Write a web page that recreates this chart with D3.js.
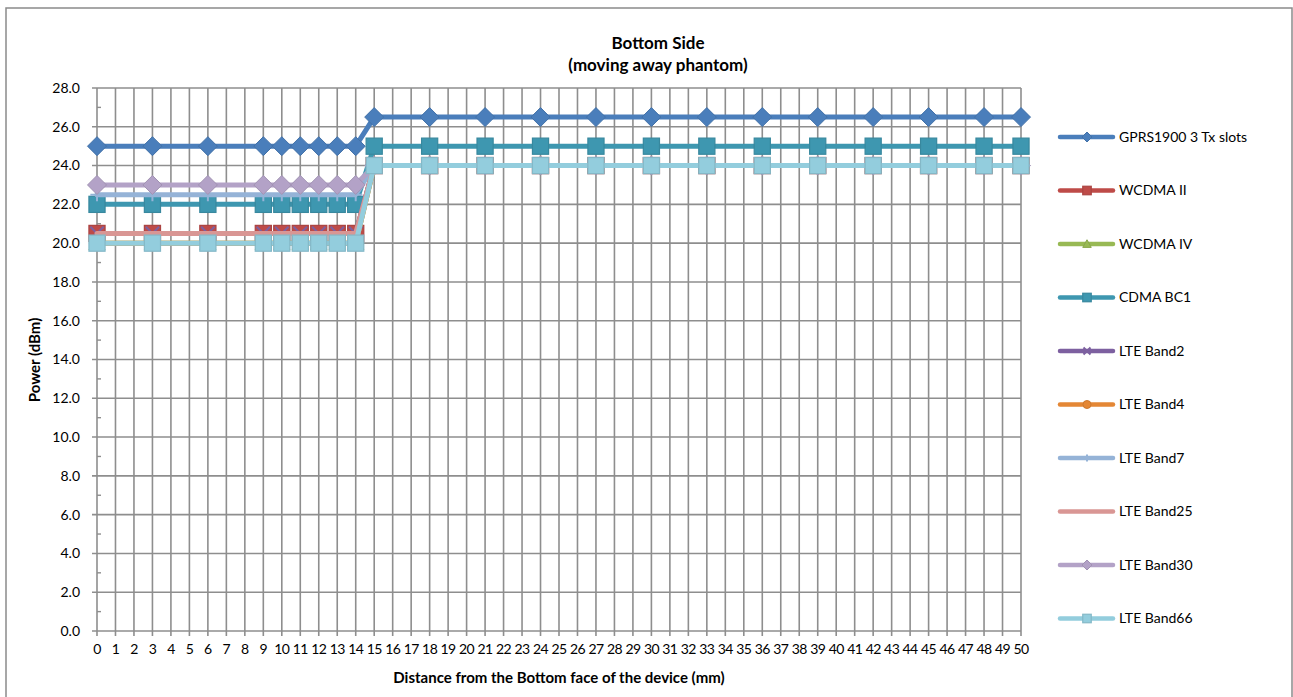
<!DOCTYPE html>
<html><head><meta charset="utf-8">
<script src="https://cdn.jsdelivr.net/npm/d3@7"></script>
<style>body{margin:0;background:#fff}svg{display:block;font-family:Lato,"Noto Sans",sans-serif}</style>
</head><body><svg id="c" width="1293" height="697"></svg>
<script>
const distances = [0,3,6,9,10,11,12,13,14,15,18,21,24,27,30,33,36,39,42,45,48,50];
const seriesNames = ["GPRS1900 3 Tx slots","WCDMA II","WCDMA IV","CDMA BC1","LTE Band2","LTE Band4","LTE Band7","LTE Band25","LTE Band30","LTE Band66"];
const gprs1900 = [25,25,25,25,25,25,25,25,25,26.5,26.5,26.5,26.5,26.5,26.5,26.5,26.5,26.5,26.5,26.5,26.5,26.5];
const wcdmaII  = [20.5,20.5,20.5,20.5,20.5,20.5,20.5,20.5,20.5,24,24,24,24,24,24,24,24,24,24,24,24,24];
const wcdmaIV  = [20,20,20,20,20,20,20,20,20,24,24,24,24,24,24,24,24,24,24,24,24,24];
const cdmaBC1  = [22,22,22,22,22,22,22,22,22,25,25,25,25,25,25,25,25,25,25,25,25,25];
const lteBand2 = [20.5,20.5,20.5,20.5,20.5,20.5,20.5,20.5,20.5,24,24,24,24,24,24,24,24,24,24,24,24,24];
const lteBand4 = [20,20,20,20,20,20,20,20,20,24,24,24,24,24,24,24,24,24,24,24,24,24];
const lteBand7 = [22.5,22.5,22.5,22.5,22.5,22.5,22.5,22.5,22.5,24,24,24,24,24,24,24,24,24,24,24,24,24];
const lteBand25 = [20.5,20.5,20.5,20.5,20.5,20.5,20.5,20.5,20.5,24,24,24,24,24,24,24,24,24,24,24,24,24];
const lteBand30 = [23,23,23,23,23,23,23,23,23,24,24,24,24,24,24,24,24,24,24,24,24,24];
const lteBand66 = [20,20,20,20,20,20,20,20,20,24,24,24,24,24,24,24,24,24,24,24,24,24];
const xTickLabels = d3.range(0,51);
const yTickLabels = d3.range(0,29,2);

const seriesValues = [gprs1900,wcdmaII,wcdmaIV,cdmaBC1,lteBand2,lteBand4,lteBand7,lteBand25,lteBand30,lteBand66];
const colors = ["#4A7EBB","#BE4B48","#98B954","#3E97B0","#7D60A0","#E48735","#95B3D7","#D99694","#B3A2C7","#93CDDD"];
const markers = ["diamond","square","triangle","square","x","circle","plus","none","diamond","square"];

const svg = d3.select("#c");
svg.append("rect").attr("x",6).attr("y",8).attr("width",1286).attr("height",700)
  .attr("fill","#fff").attr("stroke","#8a8a8a").attr("stroke-width",1.5);

const x = d3.scaleLinear().domain([0,50]).range([97,1021]);
const y = d3.scaleLinear().domain([0,28]).range([631,88]);
const gridC = "#8e8e8e";

const g = svg.append("g");
g.selectAll("line.v").data(xTickLabels).join("line")
  .attr("x1",d=>x(d)).attr("x2",d=>x(d)).attr("y1",y(28)).attr("y2",y(0)+5)
  .attr("stroke",gridC).attr("stroke-width",1.6);
g.selectAll("line.h").data(yTickLabels).join("line")
  .attr("x1",x(0)-5).attr("x2",x(50)).attr("y1",d=>y(d)).attr("y2",d=>y(d))
  .attr("stroke",gridC).attr("stroke-width",1.6);
g.selectAll("line.m").data(d3.range(1,28,2)).join("line")
  .attr("x1",x(0)).attr("x2",x(0)+4).attr("y1",d=>y(d)).attr("y2",d=>y(d))
  .attr("stroke",gridC).attr("stroke-width",1.4);

svg.append("g").selectAll("text").data(yTickLabels).join("text")
  .attr("x",80).attr("y",d=>y(d)).attr("dy","0.35em").attr("text-anchor","end")
  .attr("font-size",14).attr("fill","#000").text(d=>d.toFixed(1));
svg.append("g").selectAll("text").data(xTickLabels).join("text")
  .attr("x",d=>x(d)).attr("y",649).attr("dy","0.35em").attr("text-anchor","middle")
  .attr("font-size",14).attr("fill","#000").attr("letter-spacing",-0.6).text(d=>d);

svg.append("text").attr("x",658).attr("y",43).attr("dy","0.35em").attr("text-anchor","middle")
  .attr("font-size",17).attr("font-weight","bold").text("Bottom Side");
svg.append("text").attr("x",658).attr("y",65).attr("dy","0.35em").attr("text-anchor","middle")
  .attr("font-size",17).attr("font-weight","bold").text("(moving away phantom)");
svg.append("text").attr("x",559).attr("y",678).attr("dy","0.35em").attr("text-anchor","middle")
  .attr("font-size",15).attr("font-weight","bold").text("Distance from the Bottom face of the device (mm)");
svg.append("text").attr("transform","translate(35,360) rotate(-90)").attr("dy","0.35em").attr("text-anchor","middle")
  .attr("font-size",15).attr("font-weight","bold").text("Power (dBm)");

function drawMarker(sel, type, color, s){
  const dark = d3.color(color).darker(0.3).toString();
  if(type==="diamond"){
    sel.append("path").attr("d",`M0,${-s}L${s},0L0,${s}L${-s},0Z`).attr("fill",color).attr("stroke",dark).attr("stroke-width",1);
  } else if(type==="square"){
    const h=s*0.85;
    sel.append("rect").attr("x",-h).attr("y",-h).attr("width",2*h).attr("height",2*h).attr("fill",color).attr("stroke",dark).attr("stroke-width",1.2);
  } else if(type==="triangle"){
    const h=s*0.85;
    sel.append("path").attr("d",`M0,${-h}L${h},${h*0.8}L${-h},${h*0.8}Z`).attr("fill",color).attr("stroke",dark).attr("stroke-width",1);
  } else if(type==="circle"){
    sel.append("circle").attr("r",s*0.8).attr("fill",color).attr("stroke",dark).attr("stroke-width",1);
  } else if(type==="x"){
    const h=s*0.7;
    sel.append("path").attr("d",`M${-h},${-h}L${h},${h}M${-h},${h}L${h},${-h}`).attr("stroke",color).attr("stroke-width",2).attr("fill","none");
  } else if(type==="plus"){
    const h=s*0.7;
    sel.append("path").attr("d",`M0,${-h}L0,${h}M${-h},0L${h},0`).attr("stroke",color).attr("stroke-width",2).attr("fill","none");
  }
}

const line = d3.line().x(d=>x(d[0])).y(d=>y(d[1]));
seriesValues.forEach((vals,i)=>{
  const pts = distances.map((d,j)=>[d,vals[j]]);
  const sg = svg.append("g");
  sg.append("path").attr("d",line(pts)).attr("fill","none").attr("stroke",colors[i])
    .attr("stroke-width",5).attr("stroke-linejoin","round").attr("stroke-linecap","round");
  pts.forEach(p=>{
    const m = sg.append("g").attr("transform",`translate(${x(p[0])},${y(p[1])})`);
    drawMarker(m, markers[i], colors[i], 9.5);
  });
});

const legY = d3.range(10).map(i=>137 + i*53.5);
seriesNames.forEach((name,i)=>{
  const lg = svg.append("g").attr("transform",`translate(0,${legY[i]})`);
  lg.append("line").attr("x1",1060).attr("x2",1113).attr("y1",0).attr("y2",0)
    .attr("stroke",colors[i]).attr("stroke-width",4.5).attr("stroke-linecap","round");
  const m = lg.append("g").attr("transform","translate(1087,0)");
  drawMarker(m, markers[i], colors[i], 5);
  lg.append("text").attr("x",1119).attr("y",0).attr("dy","0.35em").attr("font-size",14).text(name);
});
</script></body></html>
